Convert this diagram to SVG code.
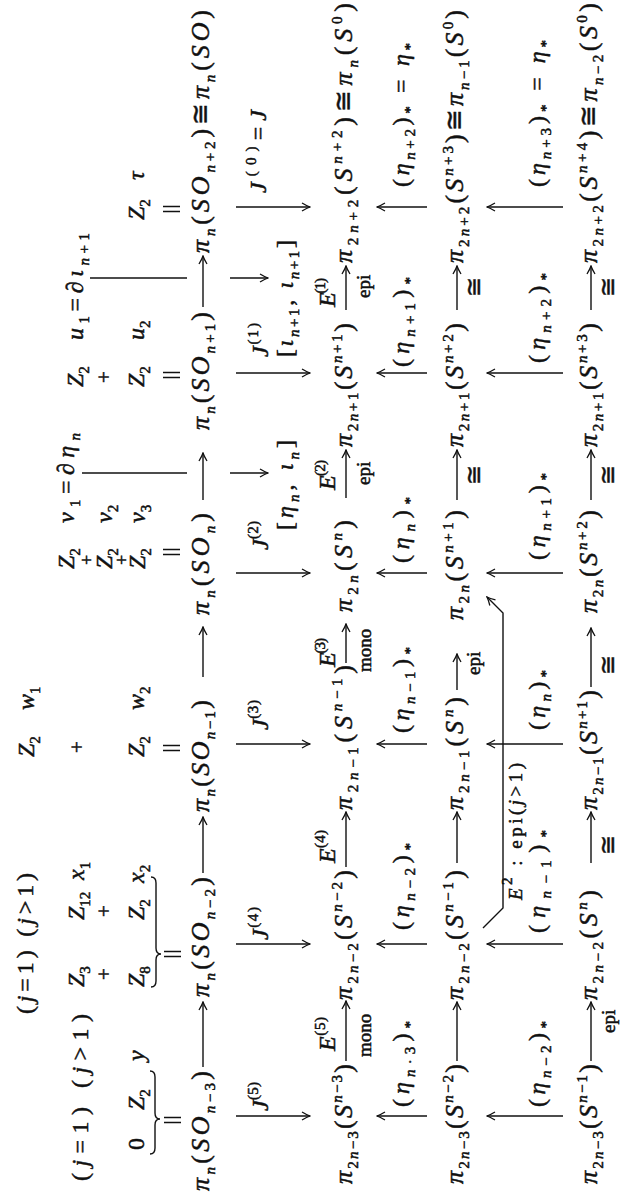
<svg xmlns="http://www.w3.org/2000/svg" width="620" height="1194" viewBox="0 0 620 1194">
<style>
text{font-family:"Liberation Serif","Times New Roman",serif;fill:#111;font-style:italic;stroke:#111;stroke-width:0.5}
.e{font-size:26px}
.l{font-size:24px}
.g{font-size:24px}
.pl{font-size:21px}
.ps{font-size:18px}
.r{font-style:normal}
.b{font-size:15px;baseline-shift:-6px}
.p{font-size:15px;baseline-shift:10px}
.w{font-size:19px;font-style:normal}
.a{stroke:#111;stroke-width:1.4;fill:none}
</style>
<defs>
<marker id="h" viewBox="-10 -6 11 12" refX="0" refY="0" markerWidth="11" markerHeight="12" markerUnits="userSpaceOnUse" orient="auto">
<path d="M-8,-4 Q-3,-1 0,0 Q-3,1 -8,4" fill="none" stroke="#111" stroke-width="1.3"/>
</marker>
</defs>
<rect width="620" height="1194" fill="#fff"/>
<g transform="translate(0,1194) rotate(-90)">

<!-- top stacks -->
<g id="stack-SOn-3">
<text class="g" x="13" y="88" textLength="167"><tspan class="r">(</tspan>j<tspan class="r">=1) (</tspan>j<tspan class="r">&gt;1)</tspan></text>
<text class="g r" x="44" y="144">0</text>
<text class="g" x="84" y="144">Z<tspan class="b r">2</tspan></text>
<text class="g" x="133" y="144">y</text>
</g>
<g id="stack-SOn-2">
<text class="g" x="180" y="33" textLength="141"><tspan class="r">(</tspan>j<tspan class="r">=1) (</tspan>j<tspan class="r">&gt;1)</tspan></text>
<text class="g" x="207" y="84">Z<tspan class="b r">3</tspan></text>
<text class="g" x="274" y="84">Z<tspan class="b r">12</tspan></text>
<text class="g" x="314" y="84">x<tspan class="b r">1</tspan></text>
<text class="pl r" x="214" y="111">+</text>
<text class="pl r" x="277" y="111">+</text>
<text class="g" x="207" y="144">Z<tspan class="b r">8</tspan></text>
<text class="g" x="274" y="144">Z<tspan class="b r">2</tspan></text>
<text class="g" x="311" y="144">x<tspan class="b r">2</tspan></text>
</g>
<g id="stack-SOn-1">
<text class="g" x="437" y="34">Z<tspan class="b r">2</tspan></text>
<text class="g" x="484" y="34">w<tspan class="b r">1</tspan></text>
<text class="pl r" x="441" y="84">+</text>
<text class="g" x="437" y="144">Z<tspan class="b r">2</tspan></text>
<text class="g" x="484" y="144">w<tspan class="b r">2</tspan></text>
</g>
<g id="stack-SOn">
<text class="g" x="625" y="74">Z<tspan class="b r">2</tspan></text>
<text class="g" x="671" y="74" textLength="90">v<tspan class="b r">1</tspan><tspan class="r">=∂</tspan>η<tspan class="b">n</tspan></text>
<text class="ps r" x="629" y="93">+</text>
<text class="g" x="625" y="112">Z<tspan class="b r">2</tspan></text>
<text class="g" x="671" y="112">v<tspan class="b r">2</tspan></text>
<text class="ps r" x="629" y="128">+</text>
<text class="g" x="625" y="145">Z<tspan class="b r">2</tspan></text>
<text class="g" x="671" y="145">v<tspan class="b r">3</tspan></text>
</g>
<g id="stack-SOn+1">
<text class="g" x="807" y="83">Z<tspan class="b r">2</tspan></text>
<text class="g" x="854" y="83" textLength="107">u<tspan class="b r">1</tspan><tspan class="r">=∂</tspan>ι<tspan class="b">n<tspan class="r">+1</tspan></tspan></text>
<text class="pl r" x="811" y="111">+</text>
<text class="g" x="807" y="144">Z<tspan class="b r">2</tspan></text>
<text class="g" x="854" y="144">u<tspan class="b r">2</tspan></text>
</g>
<g id="stack-SOn+2">
<text class="g" x="974" y="144">Z<tspan class="b r">2</tspan></text>
<text class="g" x="1014" y="144">τ</text>
</g>

<!-- row D -->
<g id="D0"><text class="e" x="3" y="209" textLength="120">π<tspan class="b">n</tspan><tspan class="r">(</tspan>SO<tspan class="b">n<tspan class="r">−3</tspan></tspan><tspan class="r">)</tspan></text></g>
<g id="D1"><text class="e" x="197" y="209" textLength="120">π<tspan class="b">n</tspan><tspan class="r">(</tspan>SO<tspan class="b">n<tspan class="r">−2</tspan></tspan><tspan class="r">)</tspan></text></g>
<g id="D2"><text class="e" x="382" y="209" textLength="112">π<tspan class="b">n</tspan><tspan class="r">(</tspan>SO<tspan class="b">n<tspan class="r">−1</tspan></tspan><tspan class="r">)</tspan></text></g>
<g id="D3"><text class="e" x="579" y="209" textLength="102">π<tspan class="b">n</tspan><tspan class="r">(</tspan>SO<tspan class="b">n</tspan><tspan class="r">)</tspan></text></g>
<g id="D4"><text class="e" x="764" y="209" textLength="118">π<tspan class="b">n</tspan><tspan class="r">(</tspan>SO<tspan class="b">n<tspan class="r">+1</tspan></tspan><tspan class="r">)</tspan></text></g>
<g id="D5"><text class="e" x="941" y="209" textLength="243">π<tspan class="b">n</tspan><tspan class="r">(</tspan>SO<tspan class="b">n<tspan class="r">+2</tspan></tspan><tspan class="r">)≅</tspan>π<tspan class="b">n</tspan><tspan class="r">(</tspan>SO<tspan class="r">)</tspan></text></g>

<!-- row E -->
<g id="E0"><text class="e" x="10" y="352" textLength="120">π<tspan class="b"><tspan class="r">2</tspan>n<tspan class="r">−3</tspan></tspan><tspan class="r">(</tspan>S<tspan class="p">n<tspan class="r">−3</tspan></tspan><tspan class="r">)</tspan></text></g>
<g id="E1"><text class="e" x="194" y="352" textLength="130">π<tspan class="b"><tspan class="r">2</tspan>n<tspan class="r">−2</tspan></tspan><tspan class="r">(</tspan>S<tspan class="p">n<tspan class="r">−2</tspan></tspan><tspan class="r">)</tspan></text></g>
<g id="E2"><text class="e" x="384" y="352" textLength="145">π<tspan class="b"><tspan class="r">2</tspan>n<tspan class="r">−1</tspan></tspan><tspan class="r">(</tspan>S<tspan class="p">n<tspan class="r">−1</tspan></tspan><tspan class="r">)</tspan></text></g>
<g id="E3"><text class="e" x="582" y="352" textLength="92">π<tspan class="b"><tspan class="r">2</tspan>n</tspan><tspan class="r">(</tspan>S<tspan class="p">n</tspan><tspan class="r">)</tspan></text></g>
<g id="E4"><text class="e" x="747" y="352" textLength="124">π<tspan class="b"><tspan class="r">2</tspan>n<tspan class="r">+1</tspan></tspan><tspan class="r">(</tspan>S<tspan class="p">n<tspan class="r">+1</tspan></tspan><tspan class="r">)</tspan></text></g>
<g id="E5"><text class="e" x="931" y="352" textLength="260">π<tspan class="b"><tspan class="r">2</tspan>n<tspan class="r">+2</tspan></tspan><tspan class="r">(</tspan>S<tspan class="p">n<tspan class="r">+2</tspan></tspan><tspan class="r">)≅</tspan>π<tspan class="b">n</tspan><tspan class="r">(</tspan>S<tspan class="p r">0</tspan><tspan class="r">)</tspan></text></g>

<!-- row F -->
<g id="F0"><text class="e" x="10" y="463" textLength="120">π<tspan class="b"><tspan class="r">2</tspan>n<tspan class="r">−3</tspan></tspan><tspan class="r">(</tspan>S<tspan class="p">n<tspan class="r">−2</tspan></tspan><tspan class="r">)</tspan></text></g>
<g id="F1"><text class="e" x="194" y="463" textLength="130">π<tspan class="b"><tspan class="r">2</tspan>n<tspan class="r">−2</tspan></tspan><tspan class="r">(</tspan>S<tspan class="p">n<tspan class="r">−1</tspan></tspan><tspan class="r">)</tspan></text></g>
<g id="F2"><text class="e" x="384" y="463" textLength="113">π<tspan class="b"><tspan class="r">2</tspan>n<tspan class="r">−1</tspan></tspan><tspan class="r">(</tspan>S<tspan class="p">n</tspan><tspan class="r">)</tspan></text></g>
<g id="F3"><text class="e" x="574" y="463" textLength="110">π<tspan class="b"><tspan class="r">2</tspan>n</tspan><tspan class="r">(</tspan>S<tspan class="p">n<tspan class="r">+1</tspan></tspan><tspan class="r">)</tspan></text></g>
<g id="F4"><text class="e" x="747" y="463" textLength="124">π<tspan class="b"><tspan class="r">2</tspan>n<tspan class="r">+1</tspan></tspan><tspan class="r">(</tspan>S<tspan class="p">n<tspan class="r">+2</tspan></tspan><tspan class="r">)</tspan></text></g>
<g id="F5"><text class="e" x="931" y="463" textLength="253">π<tspan class="b"><tspan class="r">2</tspan>n<tspan class="r">+2</tspan></tspan><tspan class="r">(</tspan>S<tspan class="p">n<tspan class="r">+3</tspan></tspan><tspan class="r">)≅</tspan>π<tspan class="b">n<tspan class="r">−1</tspan></tspan><tspan class="r">(</tspan>S<tspan class="p r">0</tspan><tspan class="r">)</tspan></text></g>

<!-- row G -->
<g id="G0"><text class="e" x="10" y="597" textLength="120">π<tspan class="b"><tspan class="r">2</tspan>n<tspan class="r">−3</tspan></tspan><tspan class="r">(</tspan>S<tspan class="p">n<tspan class="r">−1</tspan></tspan><tspan class="r">)</tspan></text></g>
<g id="G1"><text class="e" x="194" y="597" textLength="110">π<tspan class="b"><tspan class="r">2</tspan>n<tspan class="r">−2</tspan></tspan><tspan class="r">(</tspan>S<tspan class="p">n</tspan><tspan class="r">)</tspan></text></g>
<g id="G2"><text class="e" x="384" y="597" textLength="120">π<tspan class="b"><tspan class="r">2</tspan>n<tspan class="r">−1</tspan></tspan><tspan class="r">(</tspan>S<tspan class="p">n<tspan class="r">+1</tspan></tspan><tspan class="r">)</tspan></text></g>
<g id="G3"><text class="e" x="581" y="597" textLength="103">π<tspan class="b"><tspan class="r">2</tspan>n</tspan><tspan class="r">(</tspan>S<tspan class="p">n<tspan class="r">+2</tspan></tspan><tspan class="r">)</tspan></text></g>
<g id="G4"><text class="e" x="747" y="597" textLength="124">π<tspan class="b"><tspan class="r">2</tspan>n<tspan class="r">+1</tspan></tspan><tspan class="r">(</tspan>S<tspan class="p">n<tspan class="r">+3</tspan></tspan><tspan class="r">)</tspan></text></g>
<g id="G5"><text class="e" x="931" y="597" textLength="260">π<tspan class="b"><tspan class="r">2</tspan>n<tspan class="r">+2</tspan></tspan><tspan class="r">(</tspan>S<tspan class="p">n<tspan class="r">+4</tspan></tspan><tspan class="r">)≅</tspan>π<tspan class="b">n<tspan class="r">−2</tspan></tspan><tspan class="r">(</tspan>S<tspan class="p r">0</tspan><tspan class="r">)</tspan></text></g>

<!-- connectors -->
<g id="connectors">
<path class="a" d="M40,150 Q40,155 46,155 L69,155 Q75,155 75,160 Q75,155 81,155 L117,155 Q123,155 123,150"/>
<path class="a" d="M207,151 Q207,156 213,156 L234,156 Q240,156 240,161 Q240,156 246,156 L311,156 Q317,156 317,151"/>
<path class="a" d="M71.5,164 V181 M76.5,164 V181"/>
<path class="a" d="M237.5,164 V181 M242.5,164 V181"/>
<path class="a" d="M443.5,163 V180 M448.5,163 V180"/>
<path class="a" d="M639.5,163 V180 M644.5,163 V180"/>
<path class="a" d="M816.5,163 V180 M821.5,163 V180"/>
<path class="a" d="M982.5,163 V180 M987.5,163 V180"/>

<line class="a" x1="127" y1="203" x2="192" y2="203" marker-end="url(#h)"/>
<line class="a" x1="321" y1="203" x2="377" y2="203" marker-end="url(#h)"/>
<line class="a" x1="517" y1="203" x2="567" y2="203" marker-end="url(#h)"/>
<line class="a" x1="694" y1="203" x2="741" y2="203" marker-end="url(#h)"/>
<line class="a" x1="887" y1="203" x2="938" y2="203" marker-end="url(#h)"/>

<line class="a" x1="721" y1="82" x2="721" y2="187"/>
<line class="a" x1="721" y1="230" x2="721" y2="268" marker-end="url(#h)"/>
<line class="a" x1="916" y1="90" x2="916" y2="187"/>
<line class="a" x1="916" y1="230" x2="916" y2="268" marker-end="url(#h)"/>

<line class="a" x1="78" y1="236" x2="78" y2="310" marker-end="url(#h)"/>
<line class="a" x1="250" y1="236" x2="250" y2="310" marker-end="url(#h)"/>
<line class="a" x1="450" y1="236" x2="450" y2="310" marker-end="url(#h)"/>
<line class="a" x1="621" y1="236" x2="621" y2="310" marker-end="url(#h)"/>
<line class="a" x1="821" y1="236" x2="821" y2="310" marker-end="url(#h)"/>
<line class="a" x1="987" y1="236" x2="987" y2="310" marker-end="url(#h)"/>

<line class="a" x1="133" y1="346" x2="193" y2="346" marker-end="url(#h)"/>
<line class="a" x1="327" y1="346" x2="382" y2="346" marker-end="url(#h)"/>
<line class="a" x1="531" y1="346" x2="570" y2="346" marker-end="url(#h)"/>
<line class="a" x1="696" y1="346" x2="744" y2="346" marker-end="url(#h)"/>
<line class="a" x1="884" y1="346" x2="928" y2="346" marker-end="url(#h)"/>

<line class="a" x1="78" y1="427" x2="78" y2="377" marker-end="url(#h)"/>
<line class="a" x1="250" y1="427" x2="250" y2="377" marker-end="url(#h)"/>
<line class="a" x1="450" y1="427" x2="450" y2="377" marker-end="url(#h)"/>
<line class="a" x1="621" y1="427" x2="621" y2="377" marker-end="url(#h)"/>
<line class="a" x1="821" y1="427" x2="821" y2="377" marker-end="url(#h)"/>
<line class="a" x1="987" y1="427" x2="987" y2="377" marker-end="url(#h)"/>

<line class="a" x1="133" y1="457" x2="192" y2="457" marker-end="url(#h)"/>
<line class="a" x1="331" y1="457" x2="382" y2="457" marker-end="url(#h)"/>
<line class="a" x1="504" y1="457" x2="540" y2="457" marker-end="url(#h)"/>
<line class="a" x1="694" y1="457" x2="744" y2="457" marker-end="url(#h)"/>
<line class="a" x1="884" y1="457" x2="928" y2="457" marker-end="url(#h)"/>

<path class="a" d="M266,483 L286,503 L581,503 L597,487" marker-end="url(#h)"/>

<line class="a" x1="78" y1="563" x2="78" y2="487" marker-end="url(#h)"/>
<line class="a" x1="250" y1="563" x2="250" y2="487" marker-end="url(#h)"/>
<line class="a" x1="450" y1="563" x2="450" y2="487" marker-end="url(#h)"/>
<line class="a" x1="621" y1="563" x2="621" y2="487" marker-end="url(#h)"/>
<line class="a" x1="821" y1="563" x2="821" y2="487" marker-end="url(#h)"/>
<line class="a" x1="987" y1="563" x2="987" y2="487" marker-end="url(#h)"/>

<line class="a" x1="133" y1="591" x2="192" y2="591" marker-end="url(#h)"/>
<line class="a" x1="331" y1="591" x2="382" y2="591" marker-end="url(#h)"/>
<line class="a" x1="507" y1="591" x2="566" y2="591" marker-end="url(#h)"/>
<line class="a" x1="694" y1="591" x2="744" y2="591" marker-end="url(#h)"/>
<line class="a" x1="884" y1="591" x2="928" y2="591" marker-end="url(#h)"/>
</g>

<!-- connector labels -->
<g id="labels">
<text class="l" x="83" y="268" textLength="29">J<tspan class="p r">(5)</tspan></text>
<text class="l" x="254" y="268" textLength="33">J<tspan class="p r">(4)</tspan></text>
<text class="l" x="464" y="268" textLength="30">J<tspan class="p r">(3)</tspan></text>
<text class="l" x="644" y="268" textLength="29">J<tspan class="p r">(2)</tspan></text>
<text class="l" x="837" y="268" textLength="34">J<tspan class="p r">(1)</tspan></text>
<text class="l" x="1001" y="266" textLength="83">J<tspan class="p r">(0)</tspan><tspan class="r">=</tspan>J</text>
<text class="l" x="664" y="293" textLength="90"><tspan class="r">[</tspan>η<tspan class="b">n</tspan><tspan class="r">, </tspan>ι<tspan class="b">n</tspan><tspan class="r">]</tspan></text>
<text class="l" x="837" y="293" textLength="117"><tspan class="r">[</tspan>ι<tspan class="b">n<tspan class="r">+1</tspan></tspan><tspan class="r">, </tspan>ι<tspan class="b">n<tspan class="r">+1</tspan></tspan><tspan class="r">]</tspan></text>

<text class="l" x="143" y="335" textLength="34">E<tspan class="p r">(5)</tspan></text>
<text class="w" x="137" y="371">mono</text>
<text class="l" x="331" y="335" textLength="33">E<tspan class="p r">(4)</tspan></text>
<text class="l" x="527" y="335" textLength="29">E<tspan class="p r">(3)</tspan></text>
<text class="w" x="522" y="371">mono</text>
<text class="l" x="704" y="335" textLength="30">E<tspan class="p r">(2)</tspan></text>
<text class="w" x="709" y="370">epi</text>
<text class="l" x="887" y="335" textLength="29">E<tspan class="p r">(1)</tspan></text>
<text class="w" x="896" y="370">epi</text>

<text class="l" x="87" y="409" textLength="86"><tspan class="r">(</tspan>η<tspan class="b">n<tspan class="r">·3</tspan></tspan><tspan class="r">)</tspan><tspan class="b r">*</tspan></text>
<text class="l" x="264" y="409" textLength="87"><tspan class="r">(</tspan>η<tspan class="b">n<tspan class="r">−2</tspan></tspan><tspan class="r">)</tspan><tspan class="b r">*</tspan></text>
<text class="l" x="461" y="409" textLength="86"><tspan class="r">(</tspan>η<tspan class="b">n<tspan class="r">−1</tspan></tspan><tspan class="r">)</tspan><tspan class="b r">*</tspan></text>
<text class="l" x="631" y="409" textLength="66"><tspan class="r">(</tspan>η<tspan class="b">n</tspan><tspan class="r">)</tspan><tspan class="b r">*</tspan></text>
<text class="l" x="827" y="409" textLength="90"><tspan class="r">(</tspan>η<tspan class="b">n<tspan class="r">+1</tspan></tspan><tspan class="r">)</tspan><tspan class="b r">*</tspan></text>
<text class="l" x="1007" y="409" textLength="144"><tspan class="r">(</tspan>η<tspan class="b">n<tspan class="r">+2</tspan></tspan><tspan class="r">)</tspan><tspan class="b r">*</tspan><tspan class="r"> = </tspan>η<tspan class="b r">*</tspan></text>

<text class="w" x="519" y="480">epi</text>
<text class="l r" x="709" y="482">≅</text>
<text class="l r" x="897" y="482">≅</text>
<text class="w" x="294" y="522" textLength="137"><tspan style="font-style:italic">E</tspan><tspan class="p">2</tspan> : epi(<tspan style="font-style:italic">j</tspan>&gt;1)</text>

<text class="l" x="87" y="545" textLength="86"><tspan class="r">(</tspan>η<tspan class="b">n<tspan class="r">−2</tspan></tspan><tspan class="r">)</tspan><tspan class="b r">*</tspan></text>
<text class="l" x="261" y="545" textLength="103"><tspan class="r">(</tspan>η<tspan class="b">n<tspan class="r">−1</tspan></tspan><tspan class="r">)</tspan><tspan class="b r">*</tspan></text>
<text class="l" x="464" y="545" textLength="60"><tspan class="r">(</tspan>η<tspan class="b">n</tspan><tspan class="r">)</tspan><tspan class="b r">*</tspan></text>
<text class="l" x="634" y="545" textLength="87"><tspan class="r">(</tspan>η<tspan class="b">n<tspan class="r">+1</tspan></tspan><tspan class="r">)</tspan><tspan class="b r">*</tspan></text>
<text class="l" x="831" y="545" textLength="90"><tspan class="r">(</tspan>η<tspan class="b">n<tspan class="r">+2</tspan></tspan><tspan class="r">)</tspan><tspan class="b r">*</tspan></text>
<text class="l" x="1007" y="545" textLength="147"><tspan class="r">(</tspan>η<tspan class="b">n<tspan class="r">+3</tspan></tspan><tspan class="r">)</tspan><tspan class="b r">*</tspan><tspan class="r"> = </tspan>η<tspan class="b r">*</tspan></text>

<text class="w" x="161" y="615">epi</text>
<text class="l r" x="339" y="616">≅</text>
<text class="l r" x="519" y="616">≅</text>
<text class="l r" x="709" y="616">≅</text>
<text class="l r" x="897" y="616">≅</text>
</g>
</g>
</svg>
